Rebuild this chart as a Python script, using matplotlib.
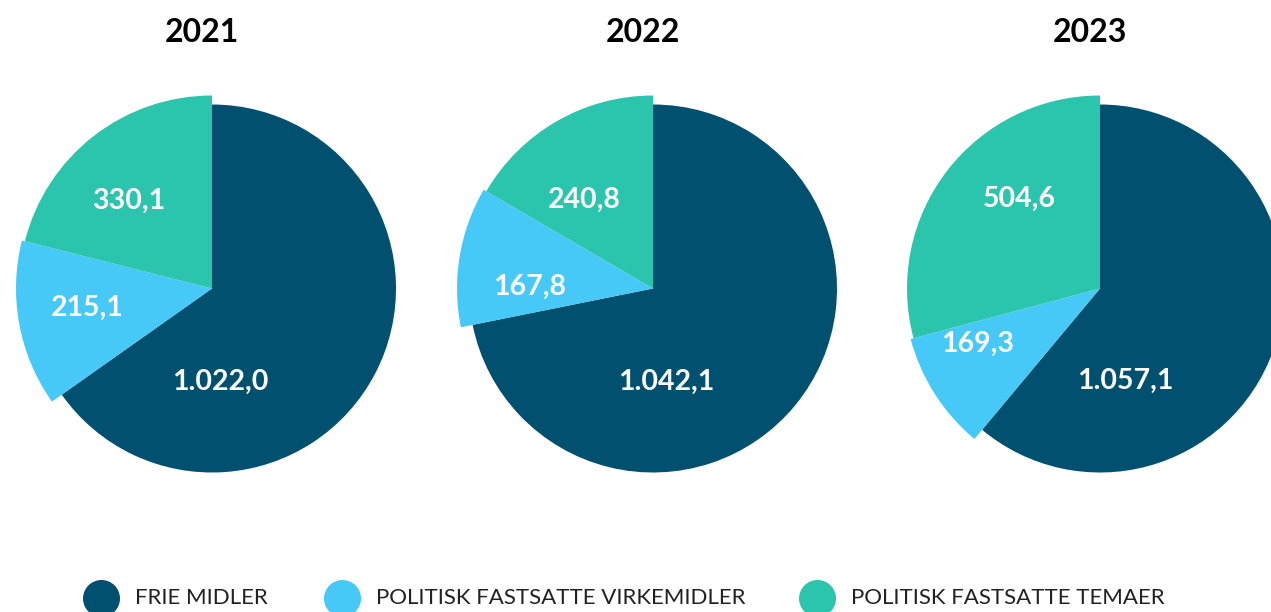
import matplotlib.pyplot as plt


# ======================================
# DATA
# ======================================

years = ["2021", "2022", "2023"]

frie_midler = [1022.0, 1042.1, 1057.1]
virkemidler = [215.1, 167.8, 169.3]
temaer = [330.1, 240.8, 504.6]

labels_text = [
    ["1.022,0", "215,1", "330,1"],
    ["1.042,1", "167,8", "240,8"],
    ["1.057,1", "169,3", "504,6"],
]

legend_names = [
    "FRIE MIDLER",
    "POLITISK FASTSATTE VIRKEMIDLER",
    "POLITISK FASTSATTE TEMAER",
]

colors = ["#02506f", "#46c9f6", "#2bc5ad"]


# ======================================
# LAYOUT (pixel space, y up)
# ======================================

W, H = 1271, 612
R = 184
slice_radius = [184, 196, 193]
centers_x = [212, 653, 1100]
center_y = H - 288.5

# label offsets from pie center, in pixels (x right, y down)
label_offsets = [
    [(8, 93), (-125, 19), (-83, -88)],
    [(13, 93), (-123, -2), (-69, -89)],
    [(25, 92), (-122, 55), (-81, -90)],
]

legend_x = [101, 342, 817]
legend_y = H - 598

plt.rcParams["font.family"] = ["Lato", "DejaVu Sans"]

fig = plt.figure(figsize=(W / 100, H / 100), dpi=100)
ax = fig.add_axes([0, 0, 1, 1])


# ======================================
# PIES
# ======================================

for i, year in enumerate(years):

    values = [frie_midler[i], virkemidler[i], temaer[i]]
    cx = centers_x[i]

    wedges, _ = ax.pie(
        values,
        colors=colors,
        startangle=90,
        counterclock=False,
        radius=R,
        center=(cx, center_y),
        wedgeprops=dict(linewidth=0),
    )

    for w, r in zip(wedges, slice_radius):
        w.set_radius(r)

    for txt, (dx, dy) in zip(labels_text[i], label_offsets[i]):
        ax.text(
            cx + dx, center_y - dy, txt,
            ha="center", va="center",
            color="white", fontsize=20.5, fontweight="bold"
        )

    ax.text(
        cx - 10, H - 32, year,
        ha="center", va="center",
        color="black", fontsize=23, fontweight="bold"
    )


# ======================================
# LEGEND
# ======================================

for x, name, c in zip(legend_x, legend_names, colors):

    ax.scatter([x], [legend_y], s=710, color=c, linewidths=0)

    ax.text(
        x + 34, legend_y, name,
        ha="left", va="center",
        color="#222222", fontsize=16
    )

ax.set_xlim(0, W)
ax.set_ylim(0, H)
ax.set_aspect("equal")
ax.axis("off")

fig.savefig("out.png", dpi=100)
